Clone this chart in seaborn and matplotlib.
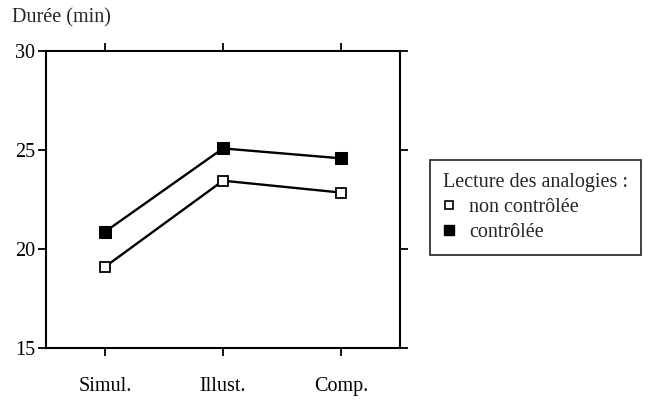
import numpy as np
import pandas as pd
import seaborn as sns
import matplotlib.pyplot as plt
from matplotlib.lines import Line2D

# data
conditions = ["Simul.", "Illust.", "Comp."]
non_controlee = [19.1, 23.45, 22.85]
controlee = [20.87, 25.08, 24.58]

sns.set_theme(style="white")
plt.rcParams['font.family'] = ['Liberation Serif', 'DejaVu Serif']
fs = 14.5

df = pd.DataFrame({
    "cond": conditions * 2,
    "x": list(range(len(conditions))) * 2,
    "duree": non_controlee + controlee,
    "groupe": ["non contrôlée"] * 3 + ["contrôlée"] * 3,
})

fig = plt.figure(figsize=(6.5, 4), dpi=100)
ax = fig.add_axes([46 / 650, 52 / 400, 354 / 650, 297 / 400])

sub = df[df.groupe == "non contrôlée"]
sns.lineplot(data=sub, x="x", y="duree", ax=ax, color="black", lw=1.7,
             marker="s", markersize=7, markerfacecolor="white",
             markeredgecolor="black", markeredgewidth=1.3, zorder=3)
sub = df[df.groupe == "contrôlée"]
sns.lineplot(data=sub, x="x", y="duree", ax=ax, color="black", lw=1.7,
             marker="s", markersize=8.5, markerfacecolor="black",
             markeredgecolor="black", zorder=3)

ax.set_xlim(-0.5, 2.5)
ax.set_ylim(15, 30)
ax.set_xticks(range(len(conditions)))
ax.set_xticklabels(conditions)
ax.set_yticks([15, 20, 25, 30])
ax.set_xlabel("")
ax.set_ylabel("")
for s in ax.spines.values():
    s.set_visible(True)
    s.set_color("black")
    s.set_linewidth(1.5)
ax.tick_params(axis="both", which="both", direction="out", length=6,
               width=1.3, color="black", labelsize=fs, labelcolor="black",
               top=True, right=True, bottom=True, left=True,
               labeltop=False, labelright=False)
ax.tick_params(axis="x", pad=15)
ax.tick_params(axis="y", pad=2)
ax.grid(False)

fig.text(12 / 650, 1 - 18 / 400, "Durée (min)", fontsize=fs, va="center",
         ha="left")

handles = [
    Line2D([], [], ls="none", marker="s", markersize=6, markerfacecolor="white",
           markeredgecolor="black", markeredgewidth=1.2),
    Line2D([], [], ls="none", marker="s", markersize=6.5,
           markerfacecolor="black", markeredgecolor="black"),
]
leg = fig.legend(handles, ["non contrôlée", "contrôlée"],
                 title="Lecture des analogies :", loc="upper left",
                 bbox_to_anchor=(430 / 650, 1 - 160 / 400), frameon=True,
                 fancybox=False, fontsize=fs, title_fontsize=fs,
                 handlelength=0.6, handletextpad=0.7, borderpad=0.65,
                 borderaxespad=0, labelspacing=0.28, alignment="left")
leg.get_frame().set_edgecolor("black")
leg.get_frame().set_linewidth(1.3)

fig.savefig("out.png", dpi=100)
